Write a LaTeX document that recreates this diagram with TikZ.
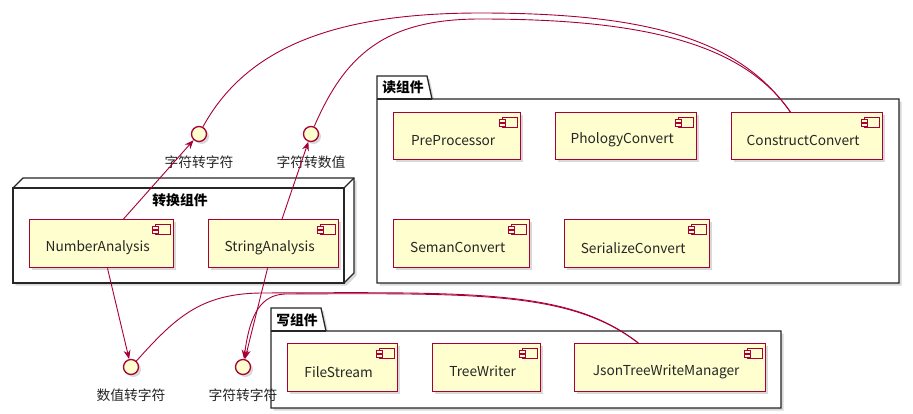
\documentclass[tikz,border=0pt]{standalone}
\usepackage{fontspec}
\setmainfont{Noto Sans CJK SC}
\usetikzlibrary{arrows.meta,shadows}
\definecolor{pfill}{HTML}{FEFECE}
\definecolor{pline}{HTML}{A80036}
\tikzset{
  shad/.style={drop shadow={shadow xshift=2.5pt,shadow yshift=-2.5pt,opacity=0.15,fill=black}},
  comp/.style={draw=pline, fill=pfill, line width=1.3pt, anchor=north west, inner sep=0pt, shape=rectangle, shad},
  ctext/.style={font=\fontsize{13.7}{16}\selectfont, text=black!85, inner sep=0pt},
  iface/.style={circle, draw=pline, fill=pfill, line width=1.3pt, minimum size=15pt, inner sep=0pt, shad},
  ilabel/.style={font=\fontsize{13.8}{16}\selectfont, text=black!85, inner sep=0pt},
  conn/.style={draw=pline, line width=0.9pt},
  arr/.style={conn, -{Stealth[length=9pt,width=7pt,inset=3pt]}},
  frame/.style={draw=black!85, line width=1.3pt, fill=white},
  plabel/.style={font=\bfseries\fontsize{13.8}{16}\selectfont, text=black, inner sep=0pt},
}
\newcommand\compo[6]{%
  \node[comp, minimum width={#4pt-#2pt}, minimum height={#5pt-#3pt}] (#1) at (#2,#3) {};
  \draw[draw=pline, fill=pfill, line width=1pt] ([xshift=-19pt,yshift=-5pt]#1.north east) rectangle ++(15pt,-10pt);
  \draw[draw=pline, fill=pfill, line width=1pt] ([xshift=-22pt,yshift=-7pt]#1.north east) rectangle ++(6pt,-3pt);
  \draw[draw=pline, fill=pfill, line width=1pt] ([xshift=-22pt,yshift=-11pt]#1.north east) rectangle ++(6pt,-3pt);
  \node[ctext] (#1t) at ([xshift=-4pt,yshift=-4pt]#1.center) {#6};
}
\begin{document}
\begin{tikzpicture}[x=1pt,y=-1pt]
\useasboundingbox[fill=white] (0,0) rectangle (913,413);
% 3D node: 转换组件
\draw[frame, shad] (13,188) -- (23,178) -- (354,178) -- (354,273) -- (344,283) -- (13,283) -- cycle;
\draw[frame] (13,188) rectangle (344,283);
\draw[draw=black!85, line width=1.3pt] (344,188) -- (354,178);
\node[plabel] (nodelbl) at (180,200) {转换组件};
% package 读组件
\draw[frame, shad] (377,99) -- (377,76) -- (427,76) -- (432,99) -- (899,99) -- (899,283) -- (377,283) -- cycle;
\draw[draw=black!85, line width=1.3pt] (377,99) -- (432,99);
\node[plabel] (readlbl) at (403,87) {读组件};
% package 写组件
\draw[frame, shad] (271,331) -- (271,308) -- (321,308) -- (326,331) -- (781,331) -- (781,408) -- (271,408) -- cycle;
\draw[draw=black!85, line width=1.3pt] (271,331) -- (326,331);
\node[plabel] (writelbl) at (297,320) {写组件};
% components
\compo{na}{29}{219}{173}{267}{NumberAnalysis}
\compo{sa}{208}{219}{338}{267}{StringAnalysis}
\compo{pp}{393}{112}{520}{159}{PreProcessor}
\compo{pc}{555}{112}{696}{159}{PhologyConvert}
\compo{cc}{731}{112}{882}{159}{ConstructConvert}
\compo{sc}{393}{219}{529}{267}{SemanConvert}
\compo{zc}{564}{219}{709}{267}{SerializeConvert}
\compo{fs}{287}{343}{397}{391}{FileStream}
\compo{tw}{432}{343}{540}{391}{TreeWriter}
\compo{jm}{574}{343}{765}{391}{JsonTreeWriteManager}
% interfaces
\node[iface] (i1) at (199,134) {};
\node[iface] (i2) at (311,134) {};
\node[iface] (i3) at (131,367) {};
\node[iface] (i4) at (243,367) {};
\node[ilabel] (i1l) at (199,162) {字符转字符};
\node[ilabel] (i2l) at (311,162) {字符转数值};
\node[ilabel] (i3l) at (131,395) {数值转字符};
\node[ilabel] (i4l) at (243,395) {字符转字符};
% connectors
\draw[arr] (na) -- (i1);
\draw[arr] (sa) -- (i2);
\draw[arr] (na) -- (i3);
\draw[arr] (sa) -- (i4);
\draw[conn] (i1) .. controls (245,50) and (330,13) .. (480,13) .. controls (650,13) and (740,40) .. (cc);
\draw[conn] (i2) .. controls (345,55) and (385,19) .. (480,19) .. controls (640,19) and (742,42) .. (cc);
\draw[conn] (i3) .. controls (175,318) and (200,294) .. (260,293) .. controls (480,292) and (570,290) .. (jm);
\draw[arr] (jm) .. controls (572,292) and (480,293) .. (285,294) .. controls (262,295) and (250,312) .. (i4);
\end{tikzpicture}
\end{document}
